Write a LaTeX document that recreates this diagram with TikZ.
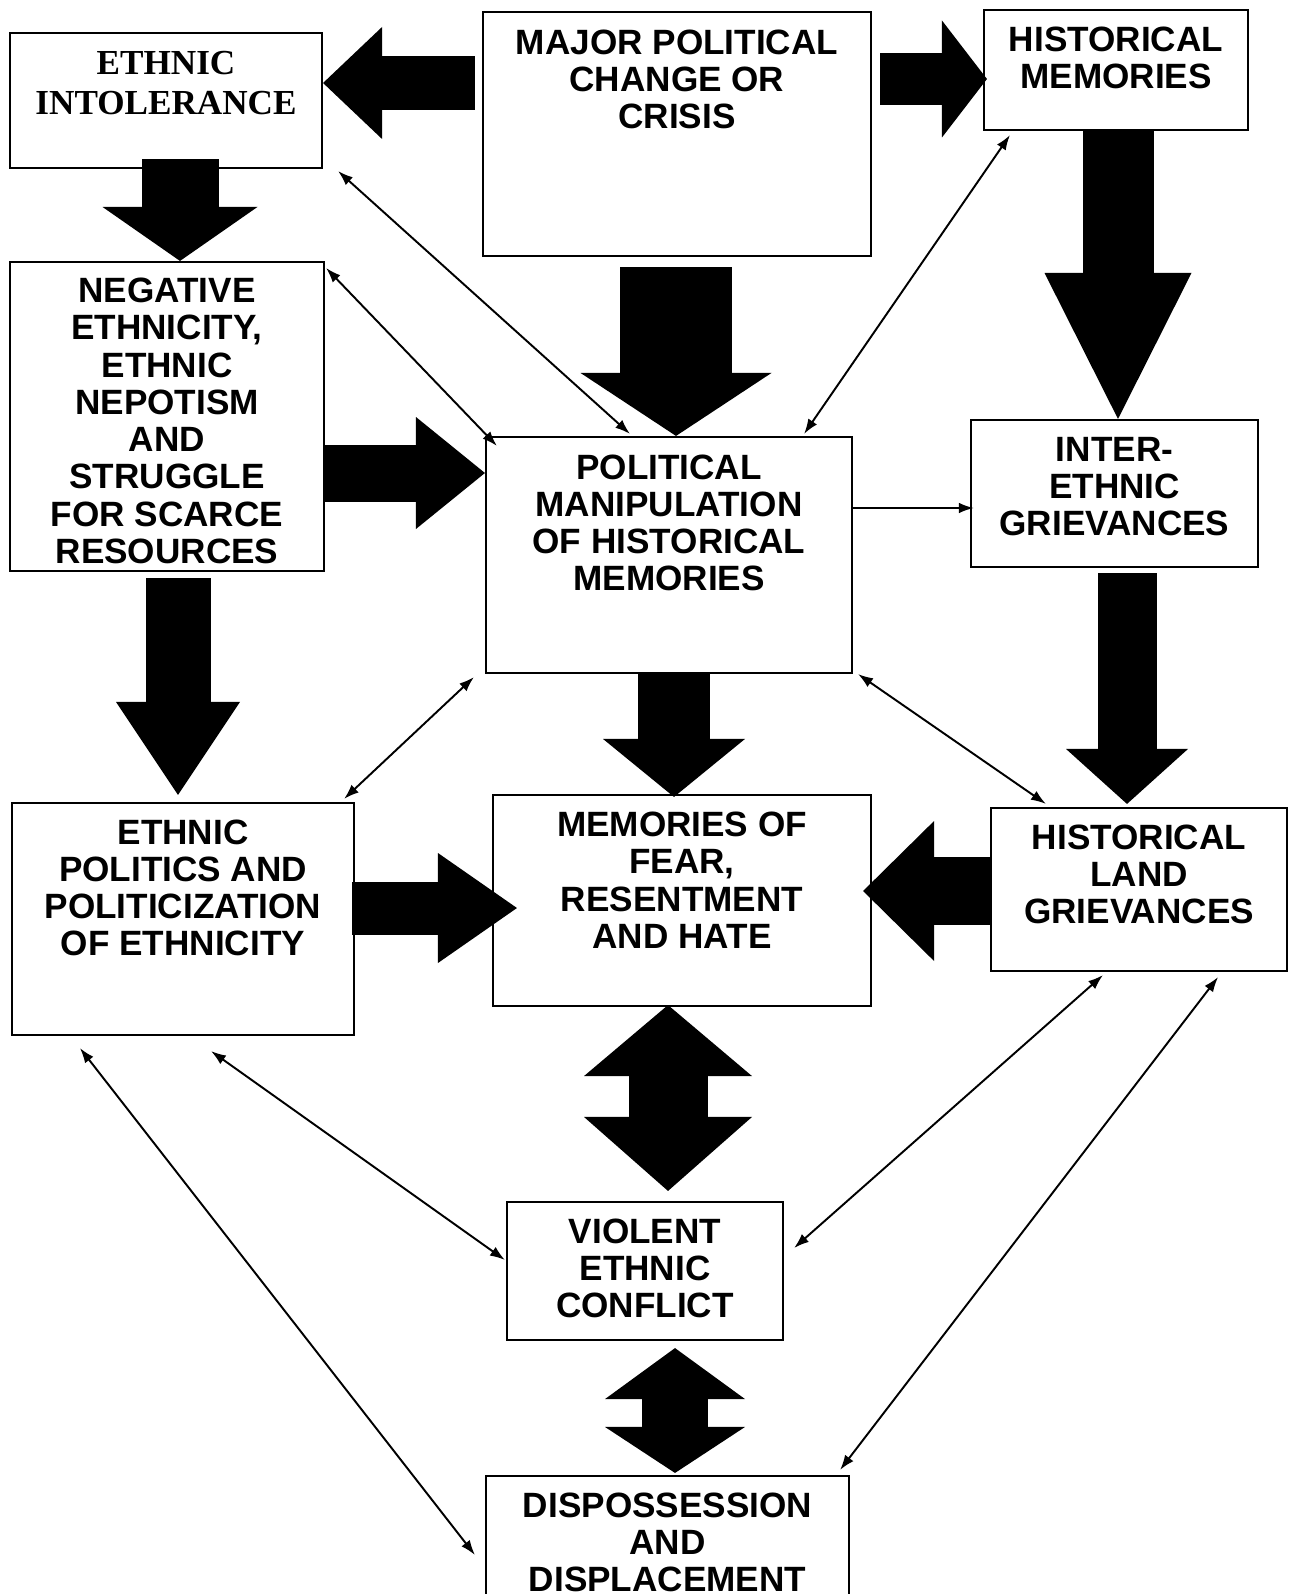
\documentclass[tikz,border=0pt]{standalone}
\usepackage{fontspec}
\setmainfont{Liberation Sans}
\newfontfamily\timesfont{Liberation Serif}
\usepackage{tikz}
\usetikzlibrary{arrows.meta, positioning}
\tikzset{
    box/.style={draw, rectangle, line width=0.6pt, inner sep=0pt},
    lbl/.style={font=\bfseries\fontsize{10}{10.6}\selectfont, align=center, inner sep=0pt},
    link/.style={{Latex[length=1.5mm, width=1.05mm]}-{Latex[length=1.5mm, width=1.05mm]}, line width=0.55pt},
    onelink/.style={-{Latex[length=1.5mm, width=1.05mm]}, line width=0.55pt},
    fat/.style n args={3}{line width=#1, -{Triangle[length=#2, width=#3, line width=0pt]}},
    fatboth/.style n args={4}{line width=#1, {Triangle[length=#2, width=#4, line width=0pt]}-{Triangle[length=#3, width=#4, line width=0pt]}}
}

\begin{document}
\begin{tikzpicture}[x=1cm, y=-1cm]
    \clip (0,0) rectangle (12.95,15.94);
    \fill [white] (0,0) rectangle (12.95,15.94);

    % boxes
    \node (ei) [box, minimum width=3.12cm, minimum height=1.35cm] at (1.66,1.005) {};
    \node (crisis) [box, minimum width=3.88cm, minimum height=2.44cm] at (6.77,1.34) {};
    \node (hmem) [box, minimum width=2.64cm, minimum height=1.20cm] at (11.16,0.70) {};
    \node (negeth) [box, minimum width=3.14cm, minimum height=3.09cm] at (1.67,4.165) {};
    \node (manip) [box, minimum width=3.66cm, minimum height=2.36cm] at (6.69,5.55) {};
    \node (intereth) [box, minimum width=2.87cm, minimum height=1.47cm] at (11.145,4.935) {};
    \node (ethpol) [box, minimum width=3.42cm, minimum height=2.32cm] at (1.83,9.19) {};
    \node (fear) [box, minimum width=3.78cm, minimum height=2.11cm] at (6.82,9.005) {};
    \node (landg) [box, minimum width=2.96cm, minimum height=1.63cm] at (11.39,8.895) {};
    \node (conflict) [box, minimum width=2.76cm, minimum height=1.38cm] at (6.45,12.71) {};
    \node (displ) [box, minimum width=3.63cm, minimum height=1.84cm] at (6.675,15.68) {};

    % texts
    \node (eitxt) [lbl, font=\bfseries\timesfont\fontsize{10}{11.2}\selectfont, below=1.9mm of ei.north] {ETHNIC\\INTOLERANCE};
    \node (crisistxt) [lbl, below=1.8mm of crisis.north] {MAJOR POLITICAL\\CHANGE OR\\CRISIS};
    \node (hmemtxt) [lbl, below=1.75mm of hmem.north] {HISTORICAL\\MEMORIES};
    \node (negethtxt) [lbl, below=1.64mm of negeth.north] {NEGATIVE\\ETHNICITY,\\ETHNIC\\NEPOTISM\\AND\\STRUGGLE\\FOR SCARCE\\RESOURCES};
    \node (maniptxt) [lbl, below=1.8mm of manip.north] {POLITICAL\\MANIPULATION\\OF HISTORICAL\\MEMORIES};
    \node (interethtxt) [lbl, below=1.75mm of intereth.north] {INTER-\\ETHNIC\\GRIEVANCES};
    \node (ethpoltxt) [lbl, below=1.7mm of ethpol.north] {ETHNIC\\POLITICS AND\\POLITICIZATION\\OF ETHNICITY};
    \node (feartxt) [lbl, below=1.75mm of fear.north] {MEMORIES OF\\FEAR,\\RESENTMENT\\AND HATE};
    \node (landgtxt) [lbl, below=1.7mm of landg.north] {HISTORICAL\\LAND\\GRIEVANCES};
    \node (conflicttxt) [lbl, below=1.7mm of conflict.north] {VIOLENT\\ETHNIC\\CONFLICT};
    \node (displtxt) [lbl, below=1.7mm of displ.north] {DISPOSSESSION\\AND\\DISPLACEMENT};

    % block arrows
    \draw [fat={0.54cm}{0.59cm}{1.12cm}] ([xshift=-0.7mm]crisis.west |- 0,0.83) -- (ei.east |- 0,0.83);
    \draw [fat={0.52cm}{0.45cm}{1.17cm}] ([xshift=0.8mm]crisis.east |- 0,0.79) -- ([xshift=0.4mm]hmem.west |- 0,0.79);
    \draw [fat={0.77cm}{0.54cm}{1.55cm}] ([yshift=1mm]ei.south -| 1.80,0) -- (negeth.north -| 1.80,0);
    \draw [fat={1.12cm}{0.63cm}{1.91cm}] ([yshift=-1mm]crisis.south -| 6.76,0) -- (manip.north -| 6.76,0);
    \draw [fat={0.71cm}{1.46cm}{1.47cm}] (hmem.south -| 11.18,0) -- (intereth.north -| 11.18,0);
    \draw [fat={0.57cm}{0.69cm}{1.12cm}] (negeth.east |- 0,4.73) -- (manip.west |- 0,4.73);
    \draw [fat={0.65cm}{0.93cm}{1.24cm}] ([yshift=-0.6mm]negeth.south -| 1.78,0) -- ([yshift=0.7mm]ethpol.north -| 1.78,0);
    \draw [fat={0.72cm}{0.58cm}{1.42cm}] (manip.south -| 6.74,0) -- ([yshift=-0.3mm]fear.north -| 6.74,0);
    \draw [fat={0.59cm}{0.55cm}{1.22cm}] ([yshift=-0.5mm]intereth.south -| 11.27,0) -- ([yshift=0.3mm]landg.north -| 11.27,0);
    \draw [fat={0.53cm}{0.79cm}{1.10cm}] ([xshift=-0.3mm]ethpol.east |- 0,9.08) -- ([xshift=2.5mm]fear.west |- 0,9.08);
    \draw [fat={0.68cm}{0.71cm}{1.40cm}] (landg.west |- 0,8.91) -- ([xshift=-0.9mm]fear.east |- 0,8.91);
    \draw [fatboth={0.79cm}{0.71cm}{0.74cm}{1.68cm}] ([yshift=0.2mm]fear.south -| 6.68,0) -- ([yshift=1mm]conflict.north -| 6.68,0);
    \draw [fatboth={0.66cm}{0.51cm}{0.46cm}{1.40cm}] ([yshift=-0.7mm]conflict.south -| 6.75,0) -- ([yshift=0.2mm]displ.north -| 6.75,0);

    % thin links
    \draw [link] ([shift={(0.15,0.02)}]ei.south east) -- ([shift={(-0.39,-0.02)}]manip.north);
    \draw [link] ([shift={(0.01,0.07)}]negeth.north east) -- ([shift={(0.12,0.10)}]manip.north west);
    \draw [link] ([shift={(0.27,0.04)}]hmem.south west) -- ([shift={(-0.49,-0.02)}]manip.north east);
    \draw [onelink] (manip.east |- 0,5.08) -- ([xshift=0.4mm]intereth.west |- 0,5.08);
    \draw [link] ([shift={(-0.11,0.03)}]manip.south west) -- ([shift={(-0.11,-0.03)}]ethpol.north east);
    \draw [link] ([shift={(0.05,0)}]manip.south east) -- ([shift={(0.56,-0.03)}]landg.north west);
    \draw [link] ([shift={(0.69,0.12)}]ethpol.south west) -- ([shift={(-0.10,-0.13)}]displ.west);
    \draw [link] ([shift={(0.28,0.15)}]ethpol.south) -- ([shift={(-0.01,-0.11)}]conflict.west);
    \draw [link] ([shift={(-0.36,0.03)}]landg.south) -- ([shift={(0.10,-0.23)}]conflict.east);
    \draw [link] ([shift={(-0.70,0.05)}]landg.south east) -- ([shift={(-0.10,-0.05)}]displ.north east);
\end{tikzpicture}
\end{document}
